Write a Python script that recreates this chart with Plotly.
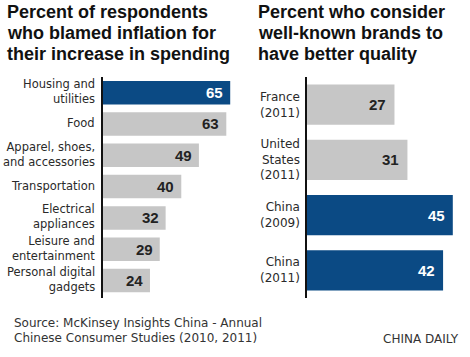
import plotly.graph_objects as go

# Left panel data
left_categories = ["Housing and<br>utilities", "Food", "Apparel, shoes,<br>and accessories",
                   "Transportation", "Electrical<br>appliances", "Leisure and<br>entertainment",
                   "Personal digital<br>gadgets"]
left_values = [65, 63, 49, 40, 32, 29, 24]
left_highlight = [True, False, False, False, False, False, False]

# Right panel data
right_categories = ["France<br>(2011)", "United<br>States<br>(2011)", "China<br>(2009)", "China<br>(2011)"]
right_values = [27, 31, 45, 42]
right_highlight = [False, False, True, True]

left_title = ["Percent of respondents", "who blamed inflation for", "their increase in spending"]
right_title = ["Percent who consider", "well-known brands to", "have better quality"]
source_lines = ["Source: McKinsey Insights China - Annual", "Chinese Consumer Studies (2010, 2011)"]
credit = "CHINA DAILY"

BLUE = "#0b4a84"
GRAY = "#c6c6c6"
W, H = 470, 357

def py(px):
    return 1 - px / H

fig = go.Figure()
fig.add_trace(go.Bar(
    x=left_values, y=left_categories, orientation="h", width=0.75,
    marker=dict(color=[BLUE if h else GRAY for h in left_highlight], line=dict(width=0)),
    xaxis="x", yaxis="y", hoverinfo="skip", showlegend=False))
fig.add_trace(go.Bar(
    x=right_values, y=right_categories, orientation="h", width=0.73,
    marker=dict(color=[BLUE if h else GRAY for h in right_highlight], line=dict(width=0)),
    xaxis="x2", yaxis="y2", hoverinfo="skip", showlegend=False))

annotations = []
num_font = "Liberation Sans"
for cat, v, h in zip(left_categories, left_values, left_highlight):
    annotations.append(dict(x=v, y=cat, xref="x", yref="y", text=f"<b>{v}</b>", showarrow=False,
                            xanchor="right", xshift=-5,
                            font=dict(family=num_font, size=15, color="white" if h else "#222")))
for cat, v, h in zip(right_categories, right_values, right_highlight):
    annotations.append(dict(x=v, y=cat, xref="x2", yref="y2", text=f"<b>{v}</b>", showarrow=False,
                            xanchor="right", xshift=-6,
                            font=dict(family=num_font, size=15, color="white" if h else "#222")))

# Category labels, placed through the axes
def add_labels(cats, xref, yref, size, xshift, yshift):
    for cat in cats:
        annotations.append(dict(x=0, y=cat, xref=xref, yref=yref, text=cat, showarrow=False,
                                xanchor="right", yanchor="middle", align="right", xshift=xshift,
                                yshift=yshift,
                                font=dict(family="DejaVu Sans", size=size, color="#2a2a2a")))
add_labels(left_categories, "x", "y", 11.5, -6, 1)
add_labels(right_categories, "x2", "y2", 12, -5, 0)

title_font = dict(family="Liberation Sans", size=18, color="#111")
for i, line in enumerate(left_title):
    annotations.append(dict(x=5 / W, y=py(12 + i * 21), xref="paper", yref="paper", text=f"<b>{line}</b>",
                            showarrow=False, xanchor="left", yanchor="middle", font=title_font))
for i, line in enumerate(right_title):
    annotations.append(dict(x=256 / W, y=py(12 + i * 21), xref="paper", yref="paper", text=f"<b>{line}</b>",
                            showarrow=False, xanchor="left", yanchor="middle", font=title_font))

src_font = dict(family="DejaVu Sans", size=12, color="#333")
annotations.append(dict(x=12 / W, y=py(323), xref="paper", yref="paper", text=source_lines[0],
                        showarrow=False, xanchor="left", yanchor="middle", font=src_font))
annotations.append(dict(x=12 / W, y=py(338), xref="paper", yref="paper", text=source_lines[1],
                        showarrow=False, xanchor="left", yanchor="middle", font=src_font))
annotations.append(dict(x=461 / W, y=py(339), xref="paper", yref="paper", text=credit,
                        showarrow=False, xanchor="right", yanchor="middle", font=src_font))

common_x = dict(showgrid=False, zeroline=False, showticklabels=False, showline=False, fixedrange=True)
common_y = dict(showgrid=False, zeroline=False, showline=True, linecolor="#111", linewidth=2,
                ticks="", showticklabels=False, autorange="reversed", fixedrange=True)

fig.update_layout(
    width=W, height=H,
    margin=dict(l=0, r=0, t=0, b=0),
    paper_bgcolor="white", plot_bgcolor="white",
    xaxis=dict(domain=[103 / W, 240 / W], range=[0, 70], anchor="y", **common_x),
    yaxis=dict(domain=[py(298), py(77)], anchor="x", **common_y),
    xaxis2=dict(domain=[307 / W, 469 / W], range=[0, 50], anchor="y2", **common_x),
    yaxis2=dict(domain=[py(298), py(77)], anchor="x2", **common_y),
    annotations=annotations,
)

fig.write_html("out.html", config={"displayModeBar": False},
               post_script="document.body.style.margin='0';document.body.style.padding='0';")
